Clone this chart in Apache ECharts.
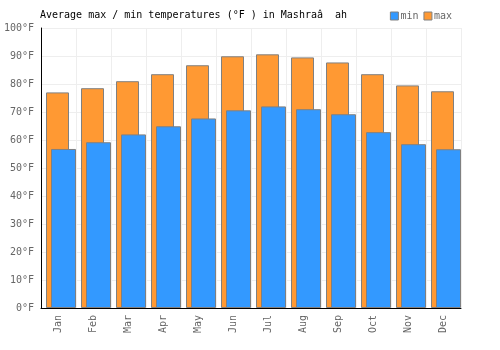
<!DOCTYPE html>
<html>
<head>
<meta charset="utf-8">
<script src="https://cdn.jsdelivr.net/npm/echarts@6/dist/echarts.min.js"></script>
<style>
	html, body { margin: 0; padding: 0; background: #fff; }
	#chart { width: 500px; height: 350px; }
</style>
</head>
<body>
<div id="chart"></div>
<script>
const months = [ 'Jan', 'Feb', 'Mar', 'Apr', 'May', 'Jun', 'Jul', 'Aug', 'Sep', 'Oct', 'Nov', 'Dec' ];
const minTemps = [ 56.8, 59.2, 62.0, 64.9, 67.7, 70.6, 72.0, 71.0, 69.2, 62.8, 58.5, 56.7 ];
const maxTemps = [ 77.0, 78.5, 81.0, 83.5, 86.7, 89.9, 90.6, 89.5, 87.7, 83.5, 79.5, 77.4 ];

const font = '"DejaVu Sans Mono", monospace';
const gridTop = 28;
const gridBottom = 42;

const hiddenX = ( gridIndex ) => ( {
	type: 'category', gridIndex: gridIndex, data: months, show: false
} );
const hiddenY = ( gridIndex ) => ( {
	type: 'value', gridIndex: gridIndex, min: 0, max: 100, show: false
} );

const chart = echarts.init( document.getElementById( 'chart' ) );
chart.setOption( {
	animation: false,
	title: {
		text: 'Average max / min temperatures (°F ) in Mashraâ  ah',
		left: 35,
		top: 5,
		textStyle: { fontFamily: font, fontSize: 10, fontWeight: 'normal', color: '#000' }
	},
	legend: {
		data: [ 'min', 'max' ],
		right: 43,
		top: 6,
		itemWidth: 8,
		itemHeight: 8,
		itemGap: 5,
		icon: 'rect',
		textStyle: { fontFamily: font, fontSize: 10, color: '#666', padding: [ 0, 0, 0, -3 ] },
		itemStyle: { borderColor: '#808080', borderWidth: 1 }
	},
	grid: [
		// axes only
		{ left: 41, right: 39, top: gridTop, bottom: gridBottom },
		// max bars
		{ left: 40, right: 40, top: gridTop, bottom: gridBottom },
		// min bars, nudged right
		{ left: 46, right: 34, top: gridTop, bottom: gridBottom }
	],
	xAxis: [
		{
			type: 'category',
			gridIndex: 0,
			data: months,
			axisLine: { lineStyle: { color: '#000', width: 1 } },
			axisTick: { show: false },
			splitLine: { show: true, lineStyle: { color: '#eeeeee' } },
			axisLabel: {
				rotate: 90,
				fontFamily: font,
				fontSize: 10,
				color: '#666',
				margin: 7
			}
		},
		hiddenX( 1 ),
		hiddenX( 2 )
	],
	yAxis: [
		{
			type: 'value',
			gridIndex: 0,
			min: 0,
			max: 100,
			interval: 10,
			axisLine: { show: true, lineStyle: { color: '#000', width: 1 } },
			axisTick: { show: false },
			splitLine: { lineStyle: { color: '#eeeeee' } },
			axisLabel: {
				formatter: '{value}°F',
				fontFamily: font,
				fontSize: 10,
				color: '#666',
				margin: 7
			}
		},
		hiddenY( 1 ),
		hiddenY( 2 )
	],
	series: [
		{
			name: 'max',
			type: 'bar',
			xAxisIndex: 1,
			yAxisIndex: 1,
			data: maxTemps,
			barWidth: 23,
			itemStyle: { color: '#ff9933', borderColor: '#808080', borderWidth: 1 }
		},
		{
			name: 'min',
			type: 'bar',
			xAxisIndex: 2,
			yAxisIndex: 2,
			data: minTemps,
			barWidth: 25,
			itemStyle: { color: '#3399ff', borderColor: '#808080', borderWidth: 1 }
		}
	]
} );
</script>
</body>
</html>
